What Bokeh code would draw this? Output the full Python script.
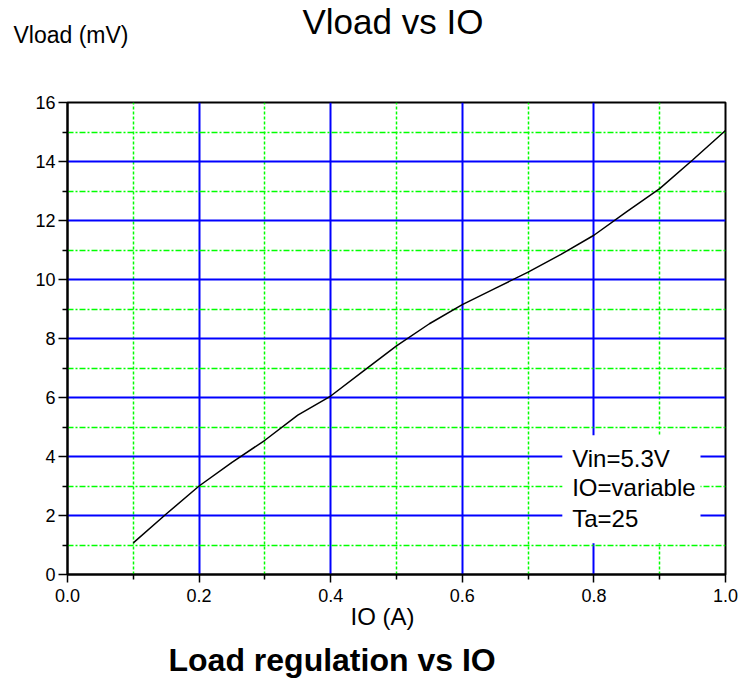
from bokeh.plotting import figure
from bokeh.models import Range1d, FixedTicker, PrintfTickFormatter, BoxAnnotation, Label
from bokeh.embed import file_html
from bokeh.resources import INLINE

# ---- data ----
io_a = [0.10, 0.15, 0.20, 0.25, 0.30, 0.35, 0.40, 0.45, 0.50, 0.55,
        0.60, 0.65, 0.70, 0.75, 0.80, 0.85, 0.90, 0.95, 1.00]
vload_mv = [1.07, 2.05, 3.00, 3.80, 4.55, 5.40, 6.05, 6.90, 7.75, 8.50,
            9.15, 9.70, 10.25, 10.85, 11.50, 12.30, 13.08, 14.05, 15.05]

x_major = [0.0, 0.2, 0.4, 0.6, 0.8, 1.0]
x_minor = [0.1, 0.3, 0.5, 0.7, 0.9]
y_major = [0, 2, 4, 6, 8, 10, 12, 14, 16]
y_minor = [1, 3, 5, 7, 9, 11, 13, 15]

note_lines = ["Vin=5.3V", "IO=variable", "Ta=25"]
note_y = [3.94, 2.96, 1.91]

FONT = "Liberation Sans"

p = figure(width=742, height=679, output_backend="svg", toolbar_location=None,
           x_range=Range1d(0, 1), y_range=Range1d(0, 16),
           min_border_left=67, min_border_right=17, min_border_top=102, min_border_bottom=105)
p.title.text = ""
p.background_fill_color = "white"
p.border_fill_color = "white"
p.outline_line_color = "black"
p.outline_line_width = 2

xt = FixedTicker(ticks=x_major, minor_ticks=x_minor)
yt = FixedTicker(ticks=y_major, minor_ticks=y_minor)
p.xaxis.ticker = xt
p.yaxis.ticker = yt
p.xgrid.ticker = xt
p.ygrid.ticker = yt
p.xaxis.formatter = PrintfTickFormatter(format="%.1f")

for ax in (p.xaxis, p.yaxis):
    ax.axis_line_color = "black"
    ax.axis_line_width = 2
    ax.major_tick_line_color = "black"
    ax.major_tick_line_width = 1.5
    ax.minor_tick_line_color = "black"
    ax.minor_tick_line_width = 1.5
    ax.major_tick_in = 0
    ax.minor_tick_in = 0
    ax.major_label_text_font = FONT
    ax.major_label_text_font_size = "18px"
    ax.major_label_text_color = "black"
p.xaxis.major_tick_out = 8
p.xaxis.minor_tick_out = 5
p.xaxis.major_label_standoff = 6
p.yaxis.major_tick_out = 9
p.yaxis.minor_tick_out = 5
p.yaxis.major_label_standoff = 3

for g in (p.xgrid, p.ygrid):
    g.grid_line_color = "#0000ff"
    g.grid_line_width = 2
    g.minor_grid_line_color = "#00ff00"
    g.minor_grid_line_width = 1.5
p.xgrid.minor_grid_line_dash = "3 2"
p.ygrid.minor_grid_line_dash = "6 2 2 2"

p.line(io_a, vload_mv, line_color="black", line_width=1.5)

# white box behind the condition notes
p.add_layout(BoxAnnotation(left=0.752, right=0.962, bottom=1.06, top=4.72,
                           fill_color="white", fill_alpha=1.0, line_alpha=0))
for t, yy in zip(note_lines, note_y):
    p.add_layout(Label(x=0.767, y=yy, text=t, text_font=FONT, text_font_size="24px",
                       text_baseline="middle", text_align="left", text_color="black"))

# titles / axis labels placed in side panels, canvas pixel coordinates (y = text middle)
def canvas_label(text, x, y, size, bold=False, align="left"):
    return Label(x=x, y=y, x_units="canvas", y_units="canvas", text=text,
                 text_font=FONT, text_font_size=size,
                 text_font_style="bold" if bold else "normal",
                 text_align=align, text_baseline="middle", text_color="black")

p.add_layout(canvas_label("Vload (mV)", 13, 34, "23px"), "above")
p.add_layout(canvas_label("Vload vs IO", 302, 21, "35px"), "above")
p.add_layout(canvas_label("IO (A)", 350, 616, "24px"), "below")
p.add_layout(canvas_label("Load regulation vs IO", 168, 659, "32px", bold=True), "below")

open("out.html", "w").write(file_html(p, INLINE))
